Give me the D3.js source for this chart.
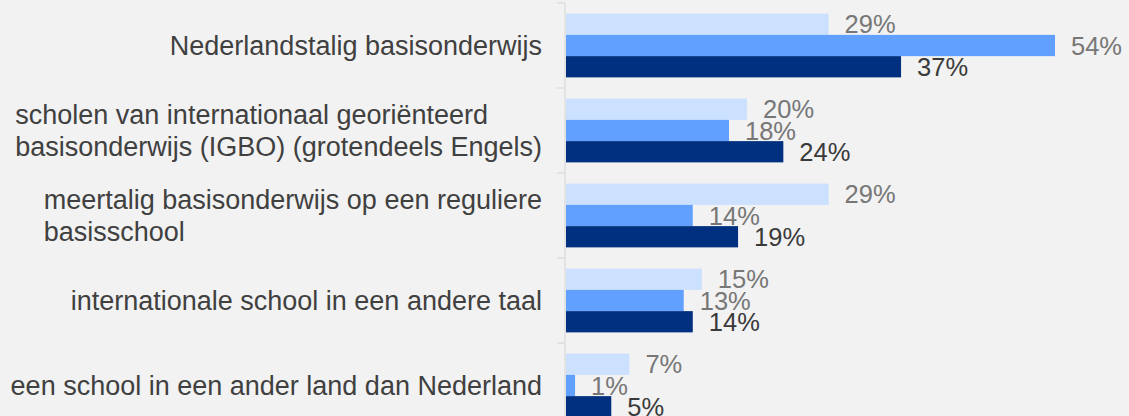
<!DOCTYPE html>
<html>
<head>
<meta charset="utf-8">
<script src="https://cdn.jsdelivr.net/npm/d3@7"></script>
<style>
  html, body { margin: 0; padding: 0; background: #f2f2f2; overflow: hidden; }
  svg { display: block; font-family: Arial, "Liberation Sans", sans-serif; }
</style>
</head>
<body>
<svg id="chart" width="1129" height="416"></svg>
<script>
// categories (label lines) and series values in percent
var categories = [
  ['Nederlandstalig basisonderwijs'],
  ['scholen van internationaal georiënteerd', 'basisonderwijs (IGBO) (grotendeels Engels)'],
  ['meertalig basisonderwijs op een reguliere', 'basisschool'],
  ['internationale school in een andere taal'],
  ['een school in een ander land dan Nederland']
];
var seriesKeys = ['s1', 's2', 's3'];
var s1 = [29, 20, 29, 15, 7];
var s2 = [54, 18, 14, 13, 1];
var s3 = [37, 24, 19, 14, 5];

var seriesColors = { s1: '#cce0ff', s2: '#62a0ff', s3: '#00307f' };
var labelColors = { s1: '#777777', s2: '#777777', s3: '#3a3a3a' };

var svg = d3.select('#chart');
var catKeys = categories.map(function(d, i) { return 'c' + i; });
var values = { s1: s1, s2: s2, s3: s3 };

var x = d3.scaleLinear().domain([0, 54]).range([566, 1055]);
var y0 = d3.scaleBand().domain(catKeys).range([3, 428]).padding(0);
var y1 = d3.scaleBand().domain(seriesKeys).range([0, y0.bandwidth()]).paddingInner(0).paddingOuter(0.5);

// axis line with ticks at the band boundaries
var axis = svg.append('g').attr('class', 'axis');
axis.append('line')
  .attr('x1', 565).attr('x2', 565)
  .attr('y1', y0.range()[0]).attr('y2', y0.range()[1])
  .style('stroke', '#e3e3e3').style('stroke-width', 2);
var bounds = catKeys.map(function(c) { return y0(c); }).concat([y0.range()[1]]);
axis.selectAll('.tick')
  .data(bounds)
  .enter().append('line')
    .attr('class', 'tick')
    .attr('x1', 557).attr('x2', 565)
    .attr('y1', function(d) { return d; })
    .attr('y2', function(d) { return d; })
    .style('stroke', '#e3e3e3').style('stroke-width', 2);

// bars
var groups = svg.selectAll('.group')
  .data(catKeys)
  .enter().append('g')
    .attr('class', 'group')
    .attr('transform', function(c) { return 'translate(0,' + y0(c) + ')'; });

groups.selectAll('rect')
  .data(function(c, i) {
    return seriesKeys.map(function(k) { return { key: k, value: values[k][i] }; });
  })
  .enter().append('rect')
    .attr('x', x(0))
    .attr('y', function(d) { return y1(d.key); })
    .attr('width', function(d) { return x(d.value) - x(0); })
    .attr('height', y1.bandwidth())
    .style('fill', function(d) { return seriesColors[d.key]; });

// value labels
groups.selectAll('text.value')
  .data(function(c, i) {
    return seriesKeys.map(function(k) { return { key: k, value: values[k][i] }; });
  })
  .enter().append('text')
    .attr('class', 'value')
    .attr('x', function(d) { return x(d.value) + 16; })
    .attr('y', function(d) { return y1(d.key) + y1.bandwidth() / 2; })
    .attr('dy', '0.36em')
    .style('font-size', '25.5px')
    .style('fill', function(d) { return labelColors[d.key]; })
    .text(function(d) { return d.value + '%'; });

// category labels: left aligned lines, block right aligned against the axis
var lineHeight = 32;
categories.forEach(function(lines, i) {
  var cy = y0(catKeys[i]) + y0.bandwidth() / 2;
  var g = svg.append('g').attr('class', 'catLabel');
  var texts = g.selectAll('text')
    .data(lines)
    .enter().append('text')
      .attr('y', function(d, j) { return cy + (j - (lines.length - 1) / 2) * lineHeight; })
      .attr('dy', '0.36em')
      .style('font-size', '27px')
      .style('fill', '#404040')
      .text(function(d) { return d; });
  var maxW = 0;
  texts.each(function() { maxW = Math.max(maxW, this.getComputedTextLength()); });
  texts.attr('x', 542 - maxW);
});
</script>
</body>
</html>
